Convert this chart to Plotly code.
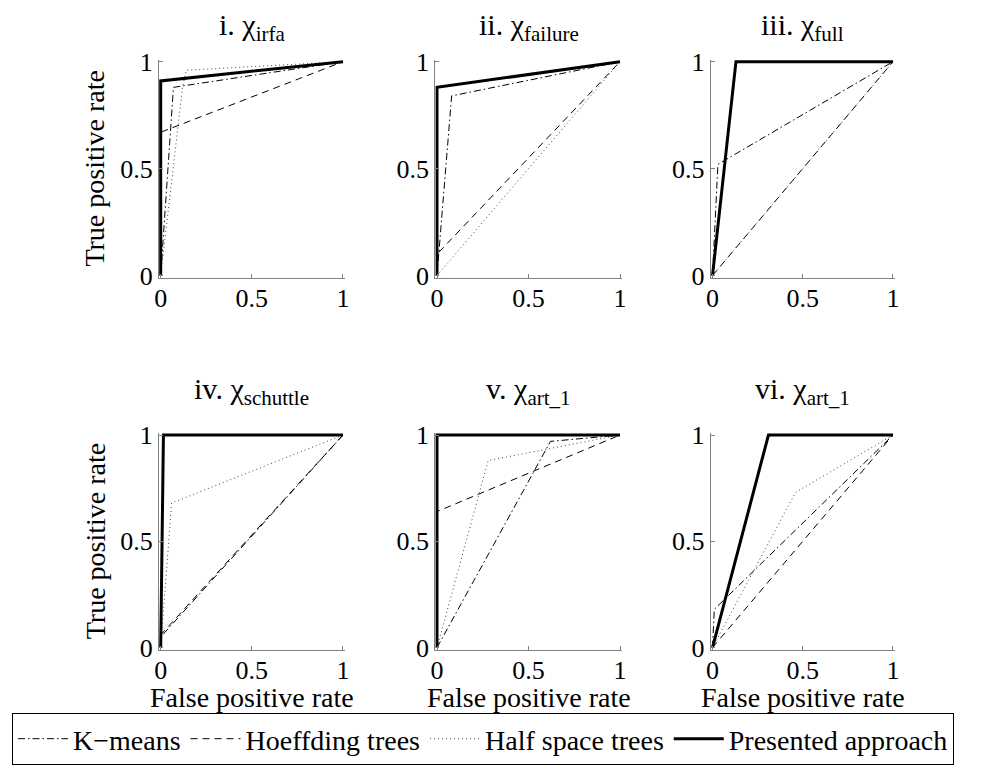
import plotly.graph_objects as go

# ROC curves of four detectors on six data sets (FPR / TPR pairs per curve)
panel_titles = ["i. χ<sub>irfa</sub>", "ii. χ<sub>failure</sub>", "iii. χ<sub>full</sub>",
                "iv. χ<sub>schuttle</sub>", "v. χ<sub>art_1</sub>", "vi. χ<sub>art_1</sub>"]

kmeans_fpr = [[0, 0.07, 1], [0, 0.08, 1], [0, 0.03, 1], [0, 0, 1], [0, 0.62, 1], [0, 0.01, 1]]
kmeans_tpr = [[0, 0.88, 1], [0, 0.84, 1], [0, 0.52, 1], [0, 0.05, 1], [0, 0.97, 1], [0, 0.18, 1]]

hoeffding_fpr = [[0, 0, 1], [0, 0, 1], [0, 1], [0, 0, 1], [0, 0, 1], [0, 1]]
hoeffding_tpr = [[0, 0.67, 1], [0, 0.10, 1], [0, 1], [0, 0.06, 1], [0, 0.64, 1], [0, 1]]

halfspace_fpr = [[0, 0.12, 0.14, 1], [0, 1], [0, 1], [0, 0.06, 1], [0, 0.28, 1], [0, 0.46, 1]]
halfspace_tpr = [[0, 0.88, 0.96, 1], [0, 1], [0, 1], [0, 0.68, 1], [0, 0.88, 1], [0, 0.73, 1]]

presented_fpr = [[0, 0, 1], [0, 0, 1], [0, 0.13, 1], [0, 0.015, 1], [0, 0, 1], [0, 0.31, 1]]
presented_tpr = [[0, 0.91, 1], [0, 0.88, 1], [0, 1, 1], [0, 1, 1], [0, 1, 1], [0, 1, 1]]

tick_vals = [0, 0.5, 1]
tick_text = ["0", "0.5", "1"]

W, H = 982, 765
FONT = "Liberation Serif, Times New Roman, serif"
TICK_FS = 26
LABEL_FS = 28
TITLE_FS = 30
PAD = 0.01  # small range padding so thick lines on the axes are not clipped

# pixel positions of data 0 and 1 for each panel (columns / rows)
col_px = [(160.7, 343.0), (437.0, 620.0), (712.5, 893.0)]
row_px = [(277.0, 62.0), (651.0, 437.3)]
title_px = [27, 393]

methods = [
    ("K\u2212means", kmeans_fpr, kmeans_tpr, dict(color="black", width=1, dash="7px,3px,1.5px,3px")),
    ("Hoeffding trees", hoeffding_fpr, hoeffding_tpr, dict(color="black", width=1, dash="7px,5px")),
    ("Half space trees", halfspace_fpr, halfspace_tpr, dict(color="#444444", width=1, dash="1px,3px")),
    ("Presented approach", presented_fpr, presented_tpr, dict(color="black", width=3)),
]

fig = go.Figure()
layout = {}
annotations = []

for k in range(6):
    r, c = divmod(k, 3)
    x0, x1 = col_px[c]
    y0, y1 = row_px[r]
    sx = (x1 - x0)
    sy = (y0 - y1)
    dx = [(x0 - PAD * sx) / W, (x1 + PAD * sx) / W]
    dy = [1 - (y0 + PAD * sy) / H, 1 - (y1 - PAD * sy) / H]
    xa = "x" if k == 0 else f"x{k+1}"
    ya = "y" if k == 0 else f"y{k+1}"
    xname = "xaxis" if k == 0 else f"xaxis{k+1}"
    yname = "yaxis" if k == 0 else f"yaxis{k+1}"
    common = dict(range=[-PAD, 1 + PAD], tickvals=tick_vals, ticktext=tick_text,
                  ticks="inside", ticklen=4, tickcolor="#808080", tickwidth=1,
                  showline=True, linecolor="#808080", linewidth=1,
                  showgrid=False, zeroline=False, fixedrange=True, automargin=False,
                  tickfont=dict(family=FONT, size=TICK_FS, color="black"))
    layout[xname] = dict(domain=dx, anchor=ya, ticklabelstandoff=-3, **common)
    layout[yname] = dict(domain=dy, anchor=xa, ticklabelstandoff=0, **common)

    for name, fx, ty, line in methods:
        fig.add_trace(go.Scatter(x=fx[k], y=ty[k], mode="lines", name=name, line=line,
                                 xaxis=xa, yaxis=ya, showlegend=(k == 0),
                                 hoverinfo="skip"))

    # panel title
    annotations.append(dict(text=panel_titles[k], xref="paper", yref="paper",
                            x=(x0 + x1) / 2 / W, y=1 - title_px[r] / H,
                            xanchor="center", yanchor="middle", showarrow=False,
                            font=dict(family=FONT, size=TITLE_FS, color="black")))
    if c == 0:
        annotations.append(dict(text="True positive rate", xref="paper", yref="paper",
                                x=95 / W, y=1 - (y0 + y1) / 2 / H, textangle=-90,
                                xanchor="center", yanchor="middle", showarrow=False,
                                font=dict(family=FONT, size=LABEL_FS, color="black")))
    if r == 1:
        annotations.append(dict(text="False positive rate", xref="paper", yref="paper",
                                x=(x0 + x1) / 2 / W, y=1 - 701 / H,
                                xanchor="center", yanchor="middle", showarrow=False,
                                font=dict(family=FONT, size=LABEL_FS, color="black")))

fig.update_layout(
    width=W, height=H,
    margin=dict(l=0, r=0, t=0, b=0),
    paper_bgcolor="white", plot_bgcolor="white",
    font=dict(family=FONT, size=TICK_FS, color="black"),
    showlegend=True,
    legend=dict(orientation="h", x=12 / W, y=1 - 717 / H, xanchor="left", yanchor="top",
                bordercolor="black", borderwidth=1, bgcolor="white",
                font=dict(family=FONT, size=LABEL_FS, color="black"),
                itemwidth=50, tracegroupgap=0),
    annotations=annotations,
    **layout,
)

fig.write_html("out.html")
